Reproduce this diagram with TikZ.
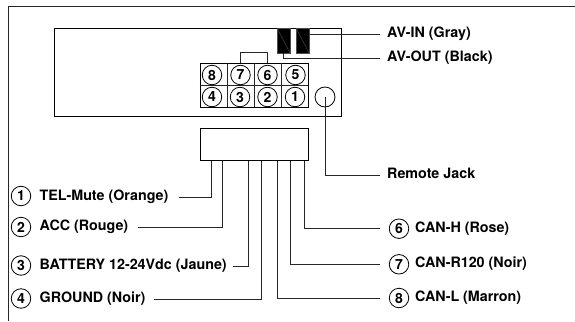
\documentclass[tikz,border=0pt]{standalone}
\usepackage{fontspec}
\setmainfont{TeX Gyre Heros}
\usetikzlibrary{positioning}
\tikzset{
    line/.style={line width=0.8pt, black!85},
    wire/.style={line, shorten >=#1},
    wire/.default=9pt,
    pin/.style={draw, line width=0.8pt, circle, inner sep=0pt, minimum size=19.5pt, font=\fontsize{14}{14}\bfseries},
    slot/.style={draw=black!70, fill=black, inner sep=0pt, minimum width=13pt, minimum height=25pt},
    box/.style={draw, line width=0.8pt, inner sep=0pt},
    wirelabel/.style={inner sep=0pt, text height=10pt, text depth=3pt, font=\fontsize{14.3}{16}\bfseries}
}

\begin{document}
\begin{tikzpicture}[x=1pt, y=-1pt]
    \useasboundingbox (0,0) rectangle (575,321);
    \coordinate (frametop) at (575,6);
    \coordinate (framecorner) at (8,6);
    \coordinate (framebottom) at (8,321);
    \draw[line] (frametop) -- (framecorner) -- (framebottom);

    \node[box, minimum width=287pt, minimum height=88pt] (device) at (197.5,72) {};
    \node[slot] (slotout) at (283.5,40.5) {};
    \node[slot] (slotin) at (302.5,40.5) {};
    \draw[black!70, line width=0.4pt] (slotout.north west) -- (slotout.south east);
    \draw[black!70, line width=0.4pt] (slotin.north west) -- (slotin.south east);

    \node[box, minimum width=108pt, minimum height=44pt] (pins) at (254,85) {};
    \node[pin] (p8) at (212,75) {8};
    \node[pin] (p7) at (240.5,75) {7};
    \node[pin] (p6) at (267.5,75) {6};
    \node[pin] (p5) at (295.5,75) {5};
    \node[pin] (p4) at (212,97) {4};
    \node[pin] (p3) at (240,97) {3};
    \node[pin] (p2) at (267.5,97) {2};
    \node[pin] (p1) at (295,97) {1};
    \draw[line] (pins.west) -- (pins.east);
    \coordinate (div1) at (227.5,63);
    \coordinate (div2) at (254.5,63);
    \coordinate (div3) at (281.5,63);
    \draw[line] (div1) -- (div1 |- pins.south);
    \draw[line] (div2) -- (div2 |- pins.south);
    \draw[line] (div3) -- (div3 |- pins.south);
    \draw[line] (pins.north -| p7) -- ++(0,-10.3) -| (pins.north -| p6);

    \node[draw, line width=0.8pt, circle, inner sep=0pt, minimum size=20pt] (jack) at (325,97) {};
    \node[box, minimum width=108.5pt, minimum height=32.5pt] (harness) at (254.5,144.5) {};

    \node[wirelabel, anchor=west] (avin) at (387,34) {AV-IN (Gray)};
    \node[wirelabel, anchor=west] (avout) at (387,58.3) {AV-OUT (Black)};
    \node[wirelabel, anchor=west] (remote) at (387,175) {Remote Jack};

    \node[pin] (n1) at (21,196) {1};
    \node[pin] (n2) at (21,227) {2};
    \node[pin] (n3) at (21,265.5) {3};
    \node[pin] (n4) at (21,298.5) {4};
    \node[wirelabel, anchor=west] (t1) at (39.5,197) {TEL-Mute (Orange)};
    \node[wirelabel, anchor=west] (t2) at (39.5,227) {ACC (Rouge)};
    \node[wirelabel, anchor=west] (t3) at (39.5,266) {BATTERY 12-24Vdc (Jaune)};
    \node[wirelabel, anchor=west] (t4) at (39.5,299) {GROUND (Noir)};

    \node[pin] (n6) at (399,228.7) {6};
    \node[pin] (n7) at (399,264.3) {7};
    \node[pin] (n8) at (399,298) {8};
    \node[wirelabel, anchor=west] (t6) at (415,228.7) {CAN-H (Rose)};
    \node[wirelabel, anchor=west] (t7) at (415,264.3) {CAN-R120 (Noir)};
    \node[wirelabel, anchor=west] (t8) at (415,298) {CAN-L (Marron)};

    \coordinate (w1) at (211,160.7);
    \coordinate (w2) at (222.3,160.7);
    \coordinate (w3) at (248,160.7);
    \coordinate (w4) at (261.7,160.7);
    \coordinate (w8) at (277.3,160.7);
    \coordinate (w7) at (290.7,160.7);
    \coordinate (w6) at (304,160.7);

    \draw[wire=10pt] (w1) |- (t1);
    \draw[wire=10pt] (w2) |- (t2);
    \draw[wire=5.7pt] (w3) |- (t3);
    \draw[wire=8pt] (w4) |- (t4);
    \draw[wire] (w6) |- (n6);
    \draw[wire] (w7) |- (n7);
    \draw[wire] (w8) |- (n8);

    \draw[wire=7pt] (slotin.east |- avin) -- (avin);
    \draw[wire=7pt] (slotout.south) |- (avout);
    \draw[wire=7pt] (jack.center) |- (remote);
\end{tikzpicture}
\end{document}
